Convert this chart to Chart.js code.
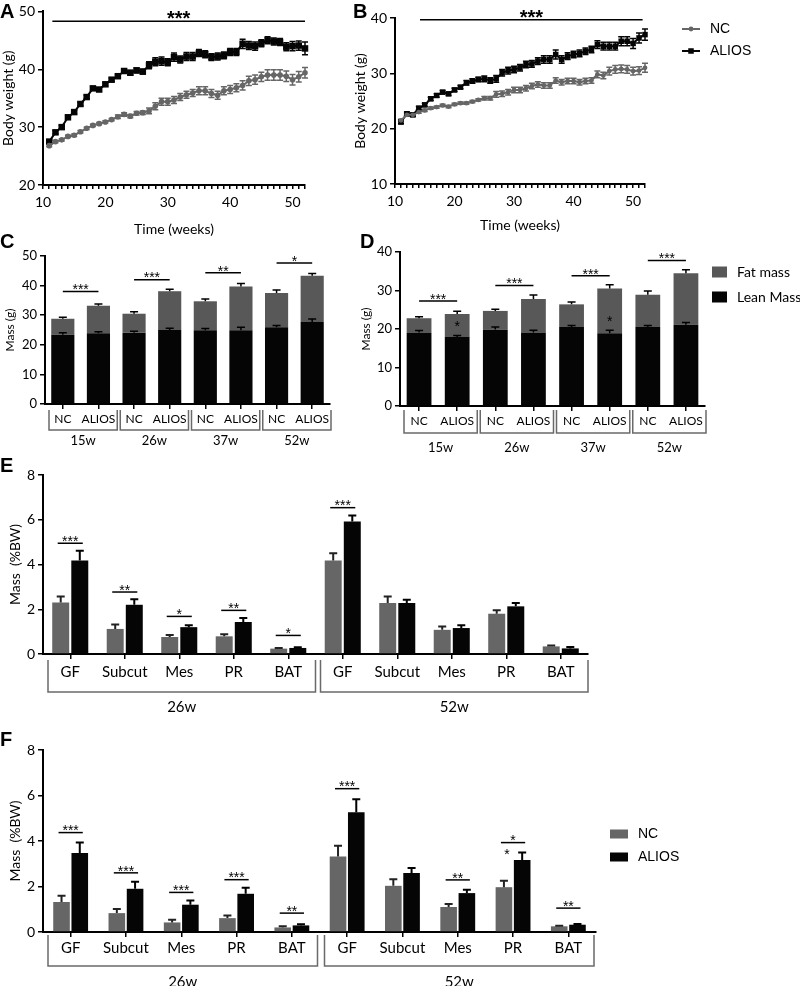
<!DOCTYPE html>
<html>
<head>
<meta charset="utf-8">
<title>Body weight and body composition</title>
<script src="https://cdn.jsdelivr.net/npm/chart.js@4.4.1/dist/chart.umd.min.js"></script>
<style>
  html, body { margin: 0; padding: 0; background: #fff; }
  #fig { position: relative; width: 800px; height: 986px; overflow: hidden; }
  #fig canvas { position: absolute; }
  .tag { position: absolute; font: bold 20px "Liberation Sans", Arial, sans-serif; line-height: 20px; color: #000; }
</style>
</head>
<body>
<div id="fig">
  <canvas id="chartA" width="350" height="240" style="left:0;top:0"></canvas>
  <canvas id="chartB" width="450" height="240" style="left:350px;top:0"></canvas>
  <canvas id="chartC" width="350" height="230" style="left:0;top:230px"></canvas>
  <canvas id="chartD" width="450" height="230" style="left:350px;top:230px"></canvas>
  <canvas id="chartE" width="800" height="260" style="left:0;top:460px"></canvas>
  <canvas id="chartF" width="800" height="266" style="left:0;top:720px"></canvas>
  <div class="tag" style="left:0;top:1px">A</div>
  <div class="tag" style="left:353px;top:1px">B</div>
  <div class="tag" style="left:0;top:231px">C</div>
  <div class="tag" style="left:360px;top:231px">D</div>
  <div class="tag" style="left:0;top:455px">E</div>
  <div class="tag" style="left:0;top:729px">F</div>
</div>
<script>
// ---------- data ----------
const weeks = [11, 12, 13, 14, 15, 16, 17, 18, 19, 20, 21, 22, 23, 24, 25, 26, 27, 28, 29, 30, 31,
               32, 33, 34, 35, 36, 37, 38, 39, 40, 41, 42, 43, 44, 45, 46, 47, 48, 49, 50, 51, 52];

// A: body weight (g)
const aNC = [26.8, 27.5, 27.8, 28.4, 28.6, 29.2, 29.8, 30.3, 30.6, 30.9, 31.3, 31.8, 32.2, 31.9, 32.4, 32.5,
             32.8, 33.6, 34.4, 34.4, 34.7, 35.2, 35.6, 35.9, 36.3, 36.3, 35.8, 35.5, 36.3, 36.5, 36.8, 37.2,
             38.0, 38.2, 38.7, 39.0, 39.0, 39.0, 38.8, 38.2, 38.7, 39.4];
const aNCErr = [0.2, 0.2, 0.2, 0.2, 0.2, 0.2, 0.2, 0.2, 0.2, 0.2, 0.2, 0.3, 0.3, 0.3, 0.3, 0.3,
                0.5, 0.6, 0.6, 0.6, 0.6, 0.6, 0.6, 0.6, 0.7, 0.7, 0.7, 0.7, 0.7, 0.7, 0.7, 0.8,
                0.8, 0.8, 0.8, 0.9, 0.9, 0.9, 0.9, 0.9, 0.9, 0.9];
const aALIOS = [27.5, 29.1, 30.0, 31.7, 32.6, 34.0, 35.2, 36.7, 36.5, 37.4, 38.2, 38.8, 39.7, 39.4, 39.8, 39.6,
                40.7, 41.3, 41.4, 41.2, 42.1, 41.7, 42.2, 42.2, 42.8, 42.6, 42.1, 42.2, 42.4, 43.0, 43.0, 44.4,
                44.1, 44.0, 44.5, 45.0, 44.8, 44.7, 43.9, 44.0, 44.1, 43.6];
const aALIOSErr = [0.3, 0.3, 0.3, 0.3, 0.3, 0.3, 0.3, 0.3, 0.3, 0.3, 0.3, 0.3, 0.3, 0.4, 0.4, 0.4,
                   0.6, 0.7, 0.7, 0.6, 0.7, 0.6, 0.7, 0.7, 0.6, 0.6, 0.6, 0.6, 0.6, 0.6, 0.6, 0.8,
                   0.7, 0.7, 0.6, 0.6, 0.6, 0.6, 0.7, 0.8, 0.8, 1.1];
const aSigSpan = [11.5, 52];
const aSigAt = 48.3;

// B: body weight (g)
const bNC = [21.5, 22.5, 22.5, 23.0, 23.3, 23.7, 23.9, 24.2, 24.0, 24.4, 24.6, 24.6, 24.9, 25.2, 25.5, 25.5,
             26.2, 26.3, 26.6, 27.0, 27.0, 27.3, 27.7, 28.0, 27.8, 27.8, 28.7, 28.4, 28.6, 28.6, 28.4, 28.6,
             28.7, 29.8, 29.6, 30.4, 30.7, 30.8, 30.7, 30.4, 30.5, 31.0];
const bNCErr = [0.2, 0.2, 0.2, 0.2, 0.2, 0.2, 0.2, 0.2, 0.2, 0.2, 0.2, 0.2, 0.2, 0.2, 0.3, 0.3,
                0.5, 0.5, 0.5, 0.5, 0.5, 0.5, 0.5, 0.5, 0.5, 0.5, 0.5, 0.5, 0.5, 0.5, 0.5, 0.5,
                0.5, 0.6, 0.6, 0.7, 0.7, 0.7, 0.7, 0.7, 0.7, 0.8];
const bALIOS = [21.2, 22.7, 22.5, 23.7, 24.3, 25.4, 26.0, 26.6, 26.3, 27.0, 27.5, 28.3, 28.6, 28.9, 29.0, 28.7,
                29.0, 30.1, 30.5, 30.7, 31.0, 31.6, 31.7, 32.2, 32.5, 32.5, 33.4, 32.5, 33.1, 33.4, 33.6, 34.0,
                34.3, 35.2, 34.9, 34.9, 34.9, 35.8, 35.8, 35.4, 36.4, 37.0];
const bALIOSErr = [0.3, 0.3, 0.3, 0.3, 0.3, 0.3, 0.3, 0.3, 0.3, 0.3, 0.3, 0.4, 0.4, 0.4, 0.5, 0.5,
                   0.6, 0.6, 0.6, 0.6, 0.6, 0.6, 0.6, 0.6, 0.7, 0.7, 0.8, 0.7, 0.6, 0.6, 0.6, 0.6,
                   0.6, 0.7, 0.7, 0.7, 0.7, 0.8, 0.8, 0.9, 0.9, 1.0];
const bSigSpan = [14.2, 51.6];
const bSigAt = 39.7;

// C, D: body composition (g)
const compLabels = ['NC', 'ALIOS', 'NC', 'ALIOS', 'NC', 'ALIOS', 'NC', 'ALIOS'];
const compWeeks = ['15w', '26w', '37w', '52w'];
const cLean = [23.4, 23.9, 24.1, 25.0, 24.9, 24.9, 25.9, 27.7];
const cLeanErr = [0.7, 0.5, 0.5, 0.6, 0.6, 1.0, 0.6, 1.0];
const cFat = [5.4, 9.3, 6.4, 13.1, 9.8, 14.8, 11.6, 15.6];
const cFatErr = [0.5, 0.6, 0.7, 0.7, 0.8, 1.0, 1.0, 0.8];
const cSigText = ['***', '***', '**', '*'];
const cSigAt = [38.0, 42.0, 44.3, 47.6];

const dLean = [19.1, 17.9, 19.9, 19.1, 20.5, 18.9, 20.5, 21.1];
const dLeanErr = [0.5, 0.4, 0.6, 0.6, 0.4, 0.8, 0.4, 0.6];
const dFat = [3.7, 6.0, 4.8, 8.7, 5.9, 11.6, 8.4, 13.4];
const dFatErr = [0.4, 0.7, 0.4, 1.0, 0.6, 1.0, 1.0, 0.9];
const dSigText = ['***', '***', '***', '***'];
const dSigAt = [27.3, 31.3, 33.8, 37.8];
const dLeanStarIdx = [1, 5];
const dLeanStarAt = [20.3, 21.6];

// E, F: fat depots (%BW)
const depotLabels = ['GF', 'Subcut', 'Mes', 'PR', 'BAT', 'GF', 'Subcut', 'Mes', 'PR', 'BAT'];
const depotWeeks = ['26w', '52w'];
const eNC = [2.30, 1.12, 0.76, 0.79, 0.24, 4.18, 2.28, 1.08, 1.80, 0.34];
const eNCErr = [0.27, 0.20, 0.09, 0.09, 0.03, 0.32, 0.29, 0.15, 0.15, 0.04];
const eALIOS = [4.18, 2.20, 1.20, 1.43, 0.27, 5.92, 2.28, 1.16, 2.13, 0.25];
const eALIOSErr = [0.43, 0.25, 0.09, 0.18, 0.03, 0.27, 0.14, 0.12, 0.15, 0.06];
const eSigIdx = [0, 1, 2, 3, 4, 5];
const eSigText = ['***', '**', '*', '**', '*', '***'];
const eSigAt = [4.95, 2.77, 1.68, 1.95, 0.83, 6.54];

const fNC = [1.32, 0.83, 0.42, 0.61, 0.20, 3.32, 2.03, 1.10, 1.97, 0.25];
const fNCErr = [0.27, 0.18, 0.12, 0.12, 0.05, 0.47, 0.29, 0.13, 0.28, 0.03];
const fALIOS = [3.47, 1.90, 1.20, 1.68, 0.29, 5.26, 2.59, 1.71, 3.17, 0.32];
const fALIOSErr = [0.46, 0.31, 0.19, 0.26, 0.05, 0.57, 0.22, 0.15, 0.32, 0.03];
const fSigIdx = [0, 1, 2, 3, 4, 5, 7, 8, 9];
const fSigText = ['***', '***', '***', '***', '**', '***', '**', '*', '**'];
const fSigAt = [4.37, 2.60, 1.74, 2.30, 0.83, 6.30, 2.29, 3.93, 1.05];
const fExtraStarIdx = 8;
const fExtraStarAt = 3.31;

const GREY = '#666666';
const FAT_GREY = '#585858';
const BLACK = '#050505';

// ---------- plugins ----------
function drawErrors(chart, o) {
  const ctx = chart.ctx, y = chart.scales.y;
  chart.data.datasets.forEach((ds, di) => {
    if (!ds.errors) return;
    const meta = chart.getDatasetMeta(di);
    ctx.save();
    ctx.strokeStyle = ds.errorColor || '#000';
    ctx.lineWidth = o.width || 1.5;
    const cap = o.cap || 4;
    meta.data.forEach((el, i) => {
      const len = y.getPixelForValue(0) - y.getPixelForValue(ds.errors[i]);
      const top = el.y - len;
      const bot = o.both ? el.y + len : el.y;
      ctx.beginPath();
      ctx.moveTo(el.x, bot); ctx.lineTo(el.x, top);
      ctx.moveTo(el.x - cap, top); ctx.lineTo(el.x + cap, top);
      if (o.both) { ctx.moveTo(el.x - cap, bot); ctx.lineTo(el.x + cap, bot); }
      ctx.stroke();
    });
    ctx.restore();
  });
}

const errorBars = {
  id: 'errorBars',
  beforeDatasetsDraw(chart, args, o) { if (o.under) drawErrors(chart, o); },
  afterDatasetsDraw(chart, args, o) { if (o.enabled && !o.under) drawErrors(chart, o); }
};

const sigMarks = {
  id: 'sig',
  afterDatasetsDraw(chart, args, o) {
    if (!o.items) return;
    const {ctx, scales: {x, y}} = chart;
    ctx.save();
    o.items.forEach(it => {
      let x1, x2;
      if (o.mode === 'bars') {
        x1 = chart.getDatasetMeta(0).data[it.i].x;
        x2 = chart.getDatasetMeta(1).data[it.i].x;
      } else {
        x1 = x.getPixelForValue(it.a);
        x2 = x.getPixelForValue(it.b);
      }
      const py = y.getPixelForValue(it.v);
      if (!it.noLine) {
        ctx.strokeStyle = '#000';
        ctx.lineWidth = o.lineWidth || 1.5;
        ctx.beginPath();
        ctx.moveTo(x1 - (o.ext || 0), py); ctx.lineTo(x2 + (o.ext || 0), py);
        ctx.stroke();
      }
      ctx.fillStyle = '#000';
      ctx.font = o.font;
      ctx.textAlign = 'center';
      ctx.textBaseline = 'alphabetic';
      const tx = it.tx !== undefined ? x.getPixelForValue(it.tx) : (x1 + x2) / 2 + (it.dx || 0);
      ctx.fillText(it.t, tx, py + o.size * 0.2);
    });
    ctx.restore();
  }
};

const brackets = {
  id: 'brackets',
  afterDraw(chart, args, o) {
    if (!o.groups) return;
    const {ctx, chartArea: area, scales: {x}} = chart;
    const w = x.getPixelForValue(1) - x.getPixelForValue(0);
    ctx.save();
    o.groups.forEach(g => {
      const l = x.getPixelForValue(g.from) - w / 2 + o.inL;
      const r = x.getPixelForValue(g.to) + w / 2 + o.inR;
      const t = area.bottom + o.top, b = area.bottom + o.bottom;
      ctx.strokeStyle = '#6a6a6a';
      ctx.lineWidth = 1.5;
      ctx.beginPath();
      ctx.moveTo(l, t); ctx.lineTo(l, b); ctx.lineTo(r, b); ctx.lineTo(r, t);
      ctx.stroke();
      ctx.fillStyle = '#000';
      ctx.font = o.font;
      ctx.textAlign = 'center';
      ctx.textBaseline = 'middle';
      ctx.fillText(g.label, (l + r) / 2, area.bottom + o.labelY);
    });
    ctx.restore();
  }
};

const keys = {
  id: 'keys',
  afterDraw(chart, args, o) {
    if (!o.order) return;
    const ctx = chart.ctx;
    ctx.save();
    o.order.forEach((di, k) => {
      const ds = chart.data.datasets[di];
      const y = o.ys[k];
      ctx.fillStyle = ds.backgroundColor;
      ctx.strokeStyle = ds.borderColor;
      if (o.kind === 'line') {
        ctx.lineWidth = 2;
        ctx.beginPath(); ctx.moveTo(o.x, y); ctx.lineTo(o.x + o.w, y); ctx.stroke();
        Chart.helpers.drawPoint(ctx, {pointStyle: ds.pointStyle, radius: ds.pointRadius, borderWidth: 0}, o.x + o.w / 2, y);
      } else {
        ctx.fillRect(o.x, y - o.h / 2, o.w, o.h);
      }
      ctx.fillStyle = '#000';
      ctx.font = o.font;
      ctx.textAlign = 'left';
      ctx.textBaseline = 'middle';
      ctx.fillText(ds.label, o.tx, y);
    });
    ctx.restore();
  }
};

Chart.register(errorBars, sigMarks, brackets, keys);
Chart.defaults.color = '#000';
Chart.defaults.font.family = 'Lato, "Open Sans", sans-serif';

// ---------- axis helpers ----------
function yAxis(min, max, step, width, title, titleSize, titlePad, tickSize) {
  return {
    min: min, max: max,
    afterFit: s => { s.width = width; },
    ticks: { stepSize: step, padding: 3, font: { size: tickSize } },
    grid: { drawOnChartArea: false, tickLength: 5, color: '#000', lineWidth: 1.5 },
    border: { color: '#000', width: 2 },
    title: { display: true, text: title, font: { size: titleSize }, padding: { top: titlePad, bottom: 0 } }
  };
}

function weekAxis(height, pad, titlePad) {
  return {
    type: 'linear', min: 10, max: 52,
    afterFit: s => { s.height = height; },
    ticks: { stepSize: 1, autoSkip: false, maxRotation: 0, padding: pad, font: { size: 14 },
             callback: v => (v % 10 === 0 ? v : '') },
    grid: { drawOnChartArea: false, tickLength: 4, color: '#000', lineWidth: 1.5 },
    border: { color: '#000', width: 2 },
    title: { display: true, text: 'Time (weeks)', font: { size: 14 }, padding: { top: 0, bottom: titlePad } }
  };
}

function catAxis(height, pad, tickSize, stacked) {
  return {
    type: 'category', offset: true, stacked: stacked,
    afterFit: s => { s.height = height; },
    ticks: { autoSkip: false, maxRotation: 0, padding: pad, font: { size: tickSize } },
    grid: { offset: false, drawOnChartArea: false, tickLength: 5, color: '#000', lineWidth: 1.5 },
    border: { color: '#000', width: 2 }
  };
}

function groupsOf(names, n) {
  return names.map((g, k) => ({ from: k * n, to: k * n + n - 1, label: g }));
}

function lineSet(label, values, errs, color, style, radius) {
  return {
    label: label,
    data: weeks.map((w, i) => ({ x: w, y: values[i] })),
    errors: errs, errorColor: color,
    borderColor: color, backgroundColor: color, borderWidth: 2,
    pointStyle: style, pointRadius: radius, pointBorderWidth: 0, pointHoverRadius: radius,
    tension: 0, clip: false
  };
}

const base = { responsive: false, animation: false, devicePixelRatio: 1, events: [] };

// ---------- A ----------
new Chart(document.getElementById('chartA'), {
  type: 'line',
  data: { datasets: [
    lineSet('NC', aNC, aNCErr, GREY, 'circle', 2.8),
    lineSet('ALIOS', aALIOS, aALIOSErr, BLACK, 'rect', 4.6)
  ] },
  options: Object.assign({}, base, {
    layout: { padding: { top: 11, right: 45, left: 0, bottom: 0 } },
    scales: { x: weekAxis(55, 5, 2), y: yAxis(20, 50, 10, 43, 'Body weight (g)', 14, 0, 14) },
    plugins: {
      legend: { display: false }, tooltip: { enabled: false },
      errorBars: { under: true, both: true, cap: 3, width: 1.5 },
      sig: { mode: 'linear', font: 'bold 20px "Liberation Sans"', size: 20, lineWidth: 1.5,
             items: [{ a: aSigSpan[0], b: aSigSpan[1], v: aSigAt, t: '***' }] }
    }
  })
});

// ---------- B ----------
new Chart(document.getElementById('chartB'), {
  type: 'line',
  data: { datasets: [
    lineSet('NC', bNC, bNCErr, GREY, 'circle', 2.4),
    lineSet('ALIOS', bALIOS, bALIOSErr, BLACK, 'rect', 3.9)
  ] },
  options: Object.assign({}, base, {
    layout: { padding: { top: 18, right: 155, left: 0, bottom: 0 } },
    scales: { x: weekAxis(56, 5, 6), y: yAxis(10, 40, 10, 45, 'Body weight (g)', 14, 2, 14) },
    plugins: {
      legend: { display: false }, tooltip: { enabled: false },
      errorBars: { under: true, both: true, cap: 3, width: 1.5 },
      sig: { mode: 'linear', font: 'bold 20px "Liberation Sans"', size: 20, lineWidth: 1.5,
             items: [{ a: bSigSpan[0], b: bSigSpan[1], v: bSigAt, t: '***' }] },
      keys: { kind: 'line', order: [0, 1], ys: [29, 51], x: 332, w: 18, tx: 360,
              font: '14px "Liberation Sans"' }
    }
  })
});

// ---------- C / D ----------
function compChart(id, lean, leanErr, fat, fatErr, sigText, sigAt, extra, geom) {
  const items = sigText.map((t, g) => ({ a: 2 * g, b: 2 * g + 1, v: sigAt[g], t: t }));
  extra.forEach(e => items.push(e));
  return new Chart(document.getElementById(id), {
    type: 'bar',
    data: {
      labels: compLabels,
      datasets: [
        { label: 'Lean Mass', data: lean, errors: leanErr, backgroundColor: BLACK, borderColor: BLACK,
          barPercentage: geom.bar, categoryPercentage: 1 },
        { label: 'Fat mass', data: fat, errors: fatErr, backgroundColor: FAT_GREY, borderColor: FAT_GREY,
          barPercentage: geom.bar, categoryPercentage: 1 }
      ]
    },
    options: Object.assign({}, base, {
      layout: { padding: { top: geom.top, right: geom.right, left: 0, bottom: 0 } },
      scales: {
        x: catAxis(geom.xh, 3, 12, true),
        y: Object.assign(yAxis(0, geom.max, 10, geom.yw, 'Mass (g)', 12, geom.tp, 13), { stacked: true })
      },
      plugins: {
        legend: { display: false }, tooltip: { enabled: false },
        errorBars: { enabled: true, cap: 4, width: 1.5 },
        sig: { mode: 'cat', font: '14px "Liberation Sans"', size: 14, lineWidth: 1.5, items: items },
        brackets: { groups: groupsOf(compWeeks, 2), inL: 4, inR: 1, top: geom.bt, bottom: geom.bb,
                    labelY: geom.ly, font: '13px Lato' },
        keys: geom.keys
      }
    })
  });
}

compChart('chartC', cLean, cLeanErr, cFat, cFatErr, cSigText, cSigAt, [],
  { bar: 0.65, top: 26, right: 20, xh: 56, max: 50, yw: 45, tp: 3, bt: 6, bb: 26, ly: 37, keys: {} });

compChart('chartD', dLean, dLeanErr, dFat, dFatErr, dSigText, dSigAt,
  dLeanStarIdx.map((i, k) => ({ a: i, b: i, v: dLeanStarAt[k], t: '*', noLine: true })),
  { bar: 0.65, top: 22, right: 95, xh: 54, max: 40, yw: 50, tp: 9, bt: 4, bb: 27, ly: 42,
    keys: { kind: 'box', order: [1, 0], ys: [42, 67], x: 362, w: 15, h: 11, tx: 387, font: '14px Lato' } });

// ---------- E / F ----------
function depotChart(id, nc, ncErr, alios, aliosErr, sig, extra, geom) {
  return new Chart(document.getElementById(id), {
    type: 'bar',
    data: {
      labels: depotLabels,
      datasets: [
        { label: 'NC', data: nc, errors: ncErr, errorColor: '#222', backgroundColor: GREY, borderColor: GREY,
          barPercentage: geom.bar, categoryPercentage: geom.cat },
        { label: 'ALIOS', data: alios, errors: aliosErr, backgroundColor: BLACK, borderColor: BLACK,
          barPercentage: geom.bar, categoryPercentage: geom.cat }
      ]
    },
    options: Object.assign({}, base, {
      layout: { padding: { top: geom.top, right: geom.right, left: 0, bottom: 0 } },
      scales: {
        x: catAxis(geom.xh, geom.pad, 15, false),
        y: yAxis(0, 8, 2, 43, 'Mass  (%BW)', 14, 7, 14)
      },
      plugins: {
        legend: { display: false }, tooltip: { enabled: false },
        errorBars: { enabled: true, cap: 4, width: 2 },
        sig: { mode: 'bars', font: '14px "Liberation Sans"', size: 14, lineWidth: 1.5, ext: 3,
               items: sig.concat(extra) },
        brackets: { groups: groupsOf(depotWeeks, 5), inL: 5, inR: geom.inR, top: geom.bt, bottom: geom.bb,
                    labelY: geom.ly, font: '15px Lato' },
        keys: geom.keys
      }
    })
  });
}

depotChart('chartE', eNC, eNCErr, eALIOS, eALIOSErr,
  eSigIdx.map((i, k) => ({ i: i, v: eSigAt[k], t: eSigText[k] })), [],
  { bar: 0.89, cat: 0.70, top: 15, right: 212, xh: 66, pad: 4, inR: 0, bt: 6, bb: 38, ly: 53, keys: {} });

depotChart('chartF', fNC, fNCErr, fALIOS, fALIOSErr,
  fSigIdx.map((i, k) => ({ i: i, v: fSigAt[k], t: fSigText[k] })),
  [{ i: fExtraStarIdx, v: fExtraStarAt, t: '*', noLine: true, dx: -6 }],
  { bar: 0.91, cat: 0.66, top: 30, right: 204, xh: 54, pad: 2, inR: -2, bt: 3, bb: 34, ly: 50,
    keys: { kind: 'box', order: [0, 1], ys: [114, 137], x: 610, w: 18, h: 9, tx: 638,
            font: '14px "Liberation Sans"' } });
</script>
</body>
</html>
